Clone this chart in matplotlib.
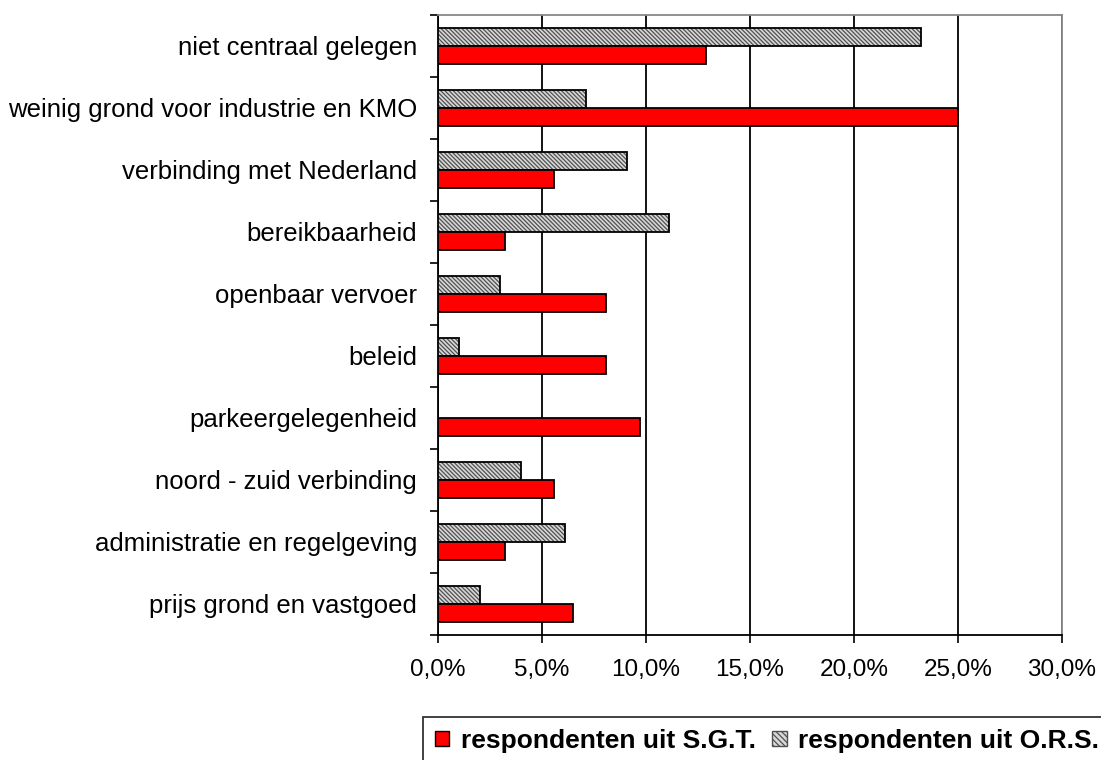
import matplotlib.pyplot as plt
import numpy as np
from matplotlib.patches import Patch
from matplotlib.ticker import FuncFormatter

plt.rcParams['font.family'] = ['Liberation Sans', 'DejaVu Sans']
plt.rcParams['hatch.linewidth'] = 0.9

categories = [
    "niet centraal gelegen",
    "weinig grond voor industrie en KMO",
    "verbinding met Nederland",
    "bereikbaarheid",
    "openbaar vervoer",
    "beleid",
    "parkeergelegenheid",
    "noord - zuid verbinding",
    "administratie en regelgeving",
    "prijs grond en vastgoed",
]
# share of respondents (%)
sgt = [12.9, 25.0, 5.6, 3.2, 8.1, 8.1, 9.7, 5.6, 3.2, 6.5]
ors = [23.2, 7.1, 9.1, 11.1, 3.0, 1.0, 0.0, 4.0, 6.1, 2.0]
x_ticks = [0, 5, 10, 15, 20, 25, 30]

RED = "#ff0000"
GRAY_FILL = "#d8d8d8"
GRAY_HATCH = "#505050"
HATCH = "\\" * 8

fig = plt.figure(figsize=(11.01, 7.6), dpi=100)
ax = fig.add_axes([0.3978, 0.1645, 0.5668, 0.8158])

y = np.arange(len(categories))
h = 0.29

# hatched grey bars: pattern first, black outline on top
ax.barh(y - h / 2, ors, height=h, color=GRAY_FILL, edgecolor=GRAY_HATCH,
        hatch=HATCH, linewidth=0, zorder=3)
ax.barh(y - h / 2, ors, height=h, fill=False, edgecolor="black",
        linewidth=1.3, zorder=4)
ax.barh(y + h / 2, sgt, height=h, color=RED, edgecolor="black",
        linewidth=1.3, zorder=4)

ax.set_xlim(0, 30)
ax.set_ylim(len(categories) - 0.5, -0.5)

ax.set_xticks(x_ticks)
ax.xaxis.set_major_formatter(FuncFormatter(lambda v, p: f"{v:.1f}%".replace(".", ",")))
ax.tick_params(axis="x", direction="out", length=6, width=1.2, pad=11,
               labelsize=17.5, colors="black")

# labels at category centres, tick marks between categories
ax.set_yticks(y)
ax.set_yticklabels(categories)
ax.set_yticks(np.arange(len(categories) + 1) - 0.5, minor=True)
ax.tick_params(axis="y", which="major", length=0, pad=15, labelsize=18.5)
ax.tick_params(axis="y", which="minor", direction="out", length=6, width=1.2)

ax.grid(axis="x", color="black", linewidth=1.3, zorder=1)
ax.set_axisbelow(True)

for side in ("left", "bottom"):
    ax.spines[side].set_color("black")
    ax.spines[side].set_linewidth(1.3)
for side in ("top", "right"):
    ax.spines[side].set_color("#888888")
    ax.spines[side].set_linewidth(1.3)

handles = [
    Patch(facecolor=RED, edgecolor="black", linewidth=1.0,
          label="respondenten uit S.G.T."),
    Patch(facecolor=GRAY_FILL, edgecolor=GRAY_HATCH, hatch="\\" * 6,
          linewidth=1.0, label="respondenten uit O.R.S."),
]
leg = fig.legend(handles=handles, loc="upper left",
                 bbox_to_anchor=(423 / 1101, 1 - 717 / 760), ncol=2,
                 prop={"size": 19, "weight": "bold"}, frameon=True,
                 fancybox=False, edgecolor="black", borderpad=0.45,
                 handlelength=0.55, handleheight=0.55, handletextpad=0.45,
                 columnspacing=0.6, borderaxespad=0)
leg.get_frame().set_linewidth(1.3)

fig.savefig("out.png", dpi=100)
